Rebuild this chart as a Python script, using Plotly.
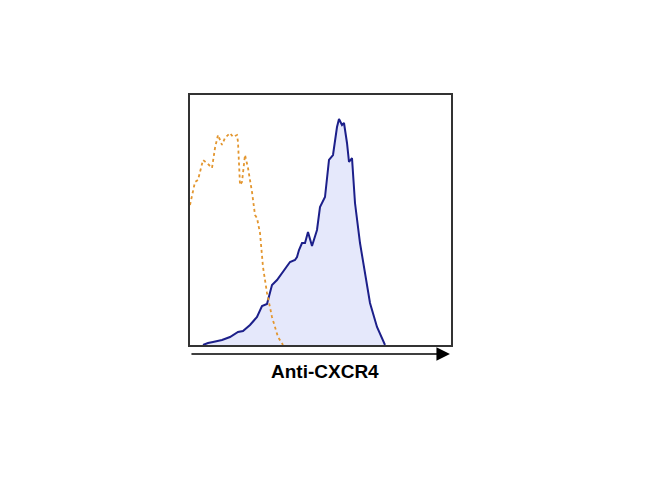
import plotly.graph_objects as go

# isotype control (orange dotted)
ctrl_x = [0, 1.7, 5, 8, 13, 17, 22, 25, 28, 32, 35, 40, 43, 47, 48, 50, 52, 55, 58,
          62, 63, 65, 67, 70, 73, 77, 82, 88, 93]
ctrl_y = [140, 147, 163, 165, 185, 182, 177, 197, 210, 200, 207, 212, 208, 210, 203,
          160, 163, 190, 177, 153, 145, 130, 127, 112, 78, 52, 28, 8, 0]

# anti-CXCR4 stained (blue filled)
cxcr4_x = [13, 18, 23, 32, 40, 48, 53, 60, 67, 72, 77, 82, 87, 97, 100, 105, 107, 109,
           112, 115, 118, 122, 127, 130, 135, 139, 143, 147, 149, 152, 154, 157, 159,
           162, 165, 170, 175, 180, 187, 195]
cxcr4_y = [0, 2, 3, 5, 8, 13, 14, 20, 28, 39, 41, 60, 65, 78, 83, 85, 88, 95, 102, 102,
           113, 99, 115, 138, 148, 185, 190, 218, 226, 220, 222, 202, 183, 187, 142,
           102, 72, 42, 18, 0]

fig = go.Figure()
fig.add_trace(go.Scatter(x=cxcr4_x, y=cxcr4_y, mode="lines", fill="tozeroy",
                         fillcolor="rgba(225,228,250,0.85)",
                         line=dict(color="#1c1f8a", width=2)))
fig.add_trace(go.Scatter(x=ctrl_x, y=ctrl_y, mode="lines",
                         line=dict(color="#e3962f", width=1.8, dash="dot")))

fig.update_xaxes(range=[0, 261], showticklabels=False, ticks="", showgrid=False,
                 zeroline=False, showline=True, linecolor="#333", linewidth=1.5, mirror=True)
fig.update_yaxes(range=[0, 250], showticklabels=False, ticks="", showgrid=False,
                 zeroline=False, showline=True, linecolor="#333", linewidth=1.5, mirror=True)

# arrow under the axis
fig.add_annotation(xref="paper", yref="paper", x=0.996, y=-0.036, ax=-260, ay=0,
                   text="", showarrow=True, arrowhead=2, arrowsize=1.8, arrowwidth=1.5,
                   arrowcolor="black")
fig.add_annotation(xref="paper", yref="paper", x=0.517, y=-0.104, text="<b>Anti-CXCR4</b>",
                   showarrow=False, yanchor="middle",
                   font=dict(family="Liberation Sans, Arial", size=19, color="black"))

fig.update_layout(width=650, height=488, showlegend=False,
                  margin=dict(l=182, r=207, t=87, b=151),
                  paper_bgcolor="white", plot_bgcolor="white")
fig.write_html("out.html")
